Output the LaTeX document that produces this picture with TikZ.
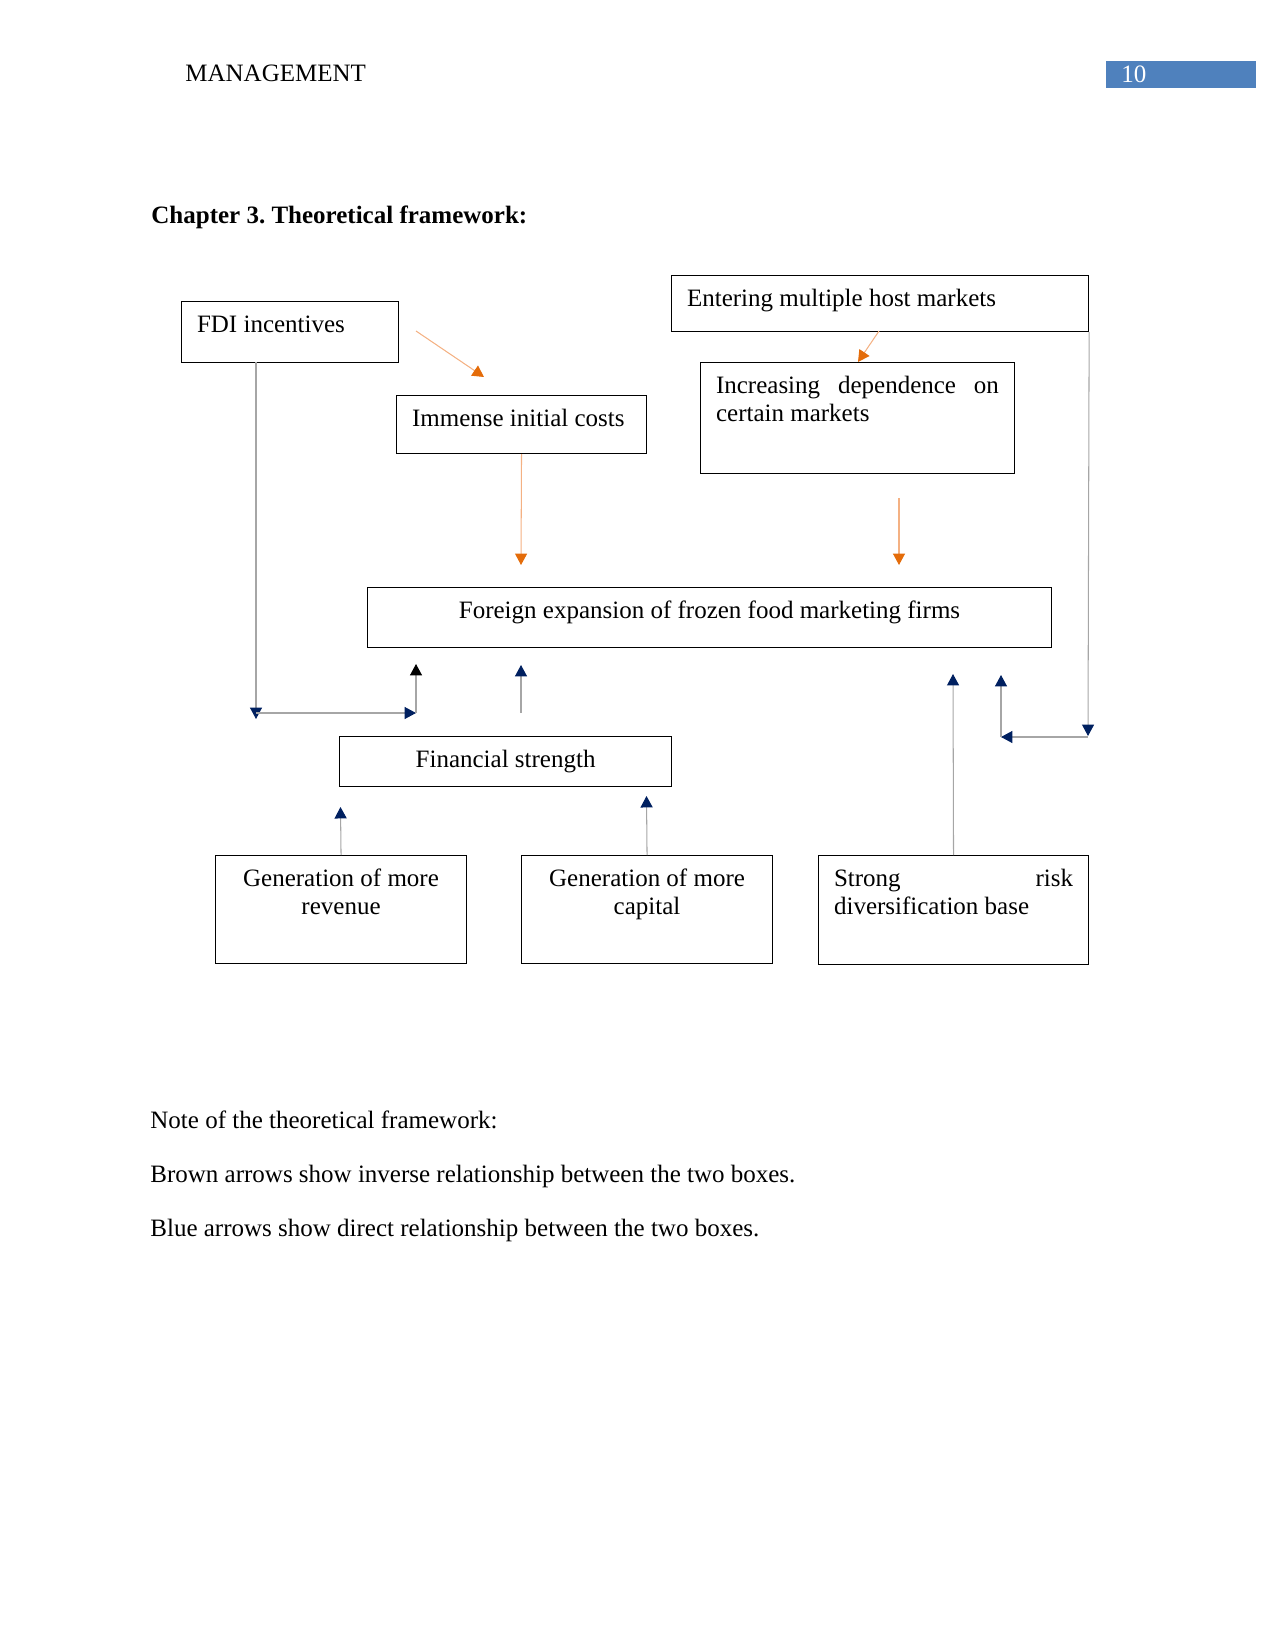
\documentclass[tikz,border=0pt]{standalone}
\usepackage{fontspec}
\setmainfont{Liberation Serif}
\usepackage{xcolor}
\definecolor{navy}{HTML}{002060}
\definecolor{brick}{HTML}{E46C0A}
\definecolor{peach}{HTML}{F4B183}
\definecolor{wire}{HTML}{A6A6A6}
\definecolor{pagebar}{HTML}{4F81BD}
\usepackage{tikz}
\usetikzlibrary{calc,arrows.meta}
\frenchspacing

\begin{document}
\begin{tikzpicture}[x=0.48pt,y=-0.48pt,font=\fontsize{12pt}{13.7pt}\selectfont,
  bx/.style={draw,line width=0.6pt,anchor=north west,inner xsep=7.4pt,inner ysep=0pt,text height=14.6pt,align=flush left},
  blu/.style={draw=wire,line width=0.5pt,-{Triangle[length=5.5pt,width=5.8pt,color=navy]}},
  org/.style={draw=peach,line width=0.5pt,-{Triangle[length=5.5pt,width=5.8pt,color=brick]}},
  blk/.style={draw=wire,line width=0.5pt,-{Triangle[length=5.5pt,width=5.8pt,color=black]}}]
  \useasboundingbox (0,0) rectangle (1275,1651);
  % page head
  \node[anchor=base west,inner sep=0pt] (head) at (185,82) {MANAGEMENT};
  \fill[pagebar] (1106,61) rectangle (1256,88);
  \node[anchor=base west,inner sep=0pt,text=white] (pg) at (1121,83) {10};
  \node[anchor=base west,inner sep=0pt,font=\fontsize{12pt}{13.7pt}\selectfont\bfseries] (title) at (151,223) {Chapter 3. Theoretical framework:};
  % boxes
  \node[bx,text width=89.3pt,text depth=14.6pt] (fdi) at (181,301) {FDI incentives};
  \node[bx,text width=105.1pt,text depth=13.2pt] (cost) at (396,395) {Immense initial costs};
  \node[bx,text width=185.3pt,text depth=12.2pt] (enter) at (671,275) {Entering multiple host markets};
  \node[bx,text width=135.8pt,text depth=38.6pt] (dep) at (700,362) {Increasing\hfill dependence\hfill on\\certain markets};
  \node[bx,text width=313.4pt,text depth=14.2pt,align=flush center] (exp) at (367,587) {Foreign expansion of frozen food marketing firms};
  \node[bx,text width=144.5pt,text depth=9.4pt,align=flush center] (fin) at (339,736) {Financial strength};
  \node[bx,text width=105.6pt,text depth=37.2pt,align=flush center] (rev) at (215,855) {Generation of more\\revenue};
  \node[bx,text width=105.6pt,text depth=37.2pt,align=flush center] (cap) at (521,855) {Generation of more\\capital};
  \node[bx,text width=114.7pt,text depth=37.7pt] (div) at (818,855) {Strong\hfill risk\\diversification base};
  % free ends of the connectors
  \coordinate (a1) at (416,331); \coordinate (a2) at (484,377);
  \coordinate (b1) at (879,331); \coordinate (b2) at (858,362);
  \coordinate (c2) at (521,565);
  \coordinate (d1) at (899,498); \coordinate (d2) at (899,565);
  \coordinate (e1) at (256,362); \coordinate (e2) at (256,719);
  \coordinate (e3) at (256,713); \coordinate (e4) at (416,713); \coordinate (e5) at (416,664);
  \coordinate (f1) at (521,713); \coordinate (f2) at (521,665);
  \coordinate (g1) at (340.5,807); \coordinate (g2) at (646.5,796);
  \coordinate (h1) at (953,674);
  \coordinate (k1) at (1088,736); \coordinate (k2) at (1088,737);
  \coordinate (k3) at (1001,737); \coordinate (k4) at (1001,675);
  % brown arrows
  \draw[org] (a1) -- (a2);
  \draw[org] (b1) -- (b2);
  \draw[org] (cost.south) -- (c2);
  \draw[org] (d1) -- (d2);
  % blue arrows
  \draw[blu] (e1) -- (e2);
  \draw[blu] (e3) -- (e4);
  \draw[blk] (e4) -- (e5);
  \draw[blu] (f1) -- (f2);
  \draw[blu] (rev.north) -- (g1);
  \draw[blu] (cap.north) -- (g2);
  \draw[blu] (div.north) -- (h1);
  \draw[blu] (enter.south east) -- (k1);
  \draw[blu] (k2) -- (k3);
  \draw[blu] (k3) -- (k4);
  % note
  \node[anchor=base west,inner sep=0pt] (n1) at (150,1128) {Note of the theoretical framework:};
  \node[anchor=base west,inner sep=0pt] (n2) at (150,1182) {Brown arrows show inverse relationship between the two boxes.};
  \node[anchor=base west,inner sep=0pt] (n3) at (150,1236) {Blue arrows show direct relationship between the two boxes.};
\end{tikzpicture}
\end{document}
